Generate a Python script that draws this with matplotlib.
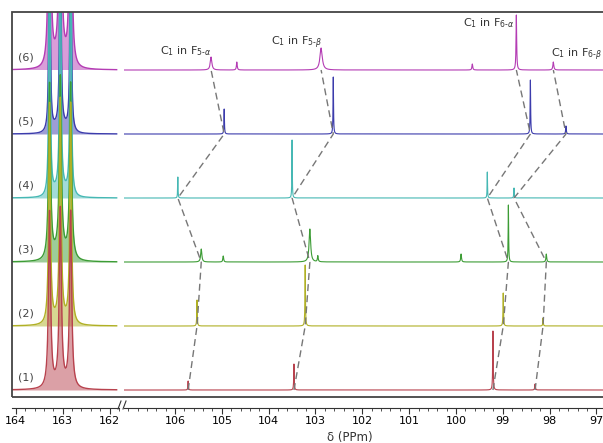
import numpy as np
import matplotlib
matplotlib.use("Agg")
import matplotlib.pyplot as plt
from matplotlib.patches import Rectangle
from matplotlib.lines import Line2D

# Spektren (1)..(6), Versatz in y-Einheiten
offsets = [0, 64, 128, 192, 256, 320]
row_labels = ["(1)", "(2)", "(3)", "(4)", "(5)", "(6)"]
colors = ["#b8424e", "#b0b025", "#3c9c35", "#46b8b4", "#3c3cac", "#b43cb4"]

# linker Bereich: Triplett bei ~163 ppm
triplet_ppm = [163.28, 163.05, 162.83]
triplet_amp = [176, 220, 175, 400, 400, 900]
triplet_width = [0.026, 0.021, 0.025, 0.013, 0.012, 0.013]
hump_height = [3, 5, 8, 8, 8, 10]

# rechter Bereich: (ppm, Höhe, Halbwertsbreite)
peaks_1 = [(105.72, 9, 0.006), (103.46, 26, 0.006), (99.21, 59, 0.006), (98.31, 6, 0.008)]
peaks_2 = [(105.53, 26, 0.006), (103.22, 61, 0.006), (98.99, 33, 0.006), (98.14, 8, 0.006)]
peaks_3 = [(105.44, 13, 0.015), (104.97, 6, 0.01), (103.12, 33, 0.02), (102.95, 6, 0.01),
           (99.89, 8, 0.01), (98.88, 57, 0.006), (98.07, 8, 0.01)]
peaks_4 = [(105.94, 21, 0.005), (103.50, 58, 0.005), (99.33, 26, 0.005), (98.76, 10, 0.006)]
peaks_5 = [(104.95, 25, 0.006), (102.62, 57, 0.006), (98.41, 54, 0.006), (97.65, 8, 0.008)]
peaks_6 = [(105.23, 13, 0.02), (104.68, 8, 0.01), (102.88, 22, 0.03), (99.65, 6, 0.01),
           (98.71, 55, 0.008), (97.92, 8, 0.012)]
right_peaks = [peaks_1, peaks_2, peaks_3, peaks_4, peaks_5, peaks_6]

# gestrichelte Verbindungen (Spektrum 1..6)
chain_f5a = [105.72, 105.53, 105.44, 105.94, 104.95, 105.23]
chain_f5b = [103.46, 103.22, 103.12, 103.50, 102.62, 102.88]
chain_f6a = [99.21, 98.99, 98.88, 99.33, 98.41, 98.71]
chain_f6b = [98.31, 98.14, 98.07, 98.76, 97.65, 97.92]

annot_text = [r"C$_1$ in F$_{5\text{-}\alpha}$", r"C$_1$ in F$_{5\text{-}\beta}$",
              r"C$_1$ in F$_{6\text{-}\alpha}$", r"C$_1$ in F$_{6\text{-}\beta}$"]
annot_ppm = [106.32, 103.95, 99.85, 97.96]
annot_y = [339, 347, 367, 335]

left_ticks = [164, 163, 162]
right_ticks = [106, 105, 104, 103, 102, 101, 100, 99, 98, 97]


def lorentz(x, x0, h, w):
    return h * w**2 / ((x - x0)**2 + w**2)


W, H = 603, 443
fig = plt.figure(figsize=(W / 100, H / 100), dpi=100)
bottom = (H - 397) / H
height = 385 / H
axL = fig.add_axes([12 / W, bottom, 107 / W, height])
axR = fig.add_axes([124 / W, bottom, 486 / W, height])

# linker Bereich
xl = np.sort(np.concatenate([np.linspace(164.1, 161.85, 3000), triplet_ppm]))
for i in reversed(range(6)):
    y = np.zeros_like(xl)
    for p in triplet_ppm:
        y += lorentz(xl, p, triplet_amp[i], triplet_width[i])
    y += hump_height[i] * np.exp(-((xl - triplet_ppm[1]) / 0.2)**2)
    axL.fill_between(xl, offsets[i], offsets[i] + y, color=colors[i], alpha=0.5, lw=0)
    axL.plot(xl, offsets[i] + y, color=colors[i], lw=1.0)
    axL.text(163.95, offsets[i] + 13, row_labels[i], fontsize=8, color="#444444",
             ha="left", va="center")

# rechter Bereich
all_ppm = [p[0] for pk in right_peaks for p in pk]
xr = np.sort(np.concatenate([np.linspace(107.2, 96.6, 8000), all_ppm]))
for i in reversed(range(6)):
    y = np.zeros_like(xr)
    for p, h, w in right_peaks[i]:
        y += lorentz(xr, p, h, w)
    axR.plot(xr, offsets[i] + y, color=colors[i], lw=0.8)

for chain in [chain_f5a, chain_f5b, chain_f6a, chain_f6b]:
    axR.plot(chain, offsets, color="#777777", lw=1.0, linestyle=(0, (5, 3)), zorder=5)

for t, px, py in zip(annot_text, annot_ppm, annot_y):
    axR.text(px, py, t, fontsize=8, color="#333333", ha="left", va="center")

for ax in [axL, axR]:
    ax.set_ylim(-7, 378)
    ax.set_yticks([])
    for s in ["top", "right", "left"]:
        ax.spines[s].set_visible(False)
    ax.spines["bottom"].set_position(("outward", 8))
    ax.spines["bottom"].set_color("#333333")
    ax.tick_params(axis="x", which="major", length=4, color="#333333", labelsize=8, pad=1.5)
    ax.tick_params(axis="x", which="minor", length=2.5, color="#333333")
    ax.patch.set_alpha(0)

axL.set_xlim(164.08, 161.88)
axR.set_xlim(107.09, 96.71)
axL.set_xticks(left_ticks)
axR.set_xticks(right_ticks)
axL.set_xticks(np.arange(161.8, 164.2, 0.2), minor=True)
axR.set_xticks(np.arange(96.8, 107.0, 0.2), minor=True)

# Rahmen
fig.add_artist(Rectangle((12 / W, bottom), 700 / W, height, transform=fig.transFigure,
                         fill=False, edgecolor="#444444", lw=1.3))

# Achsenbruch
yb = (H - 405) / H
for dx in [118, 123]:
    fig.add_artist(Line2D([dx / W, (dx + 3) / W], [yb - 4 / H, yb + 4 / H],
                          transform=fig.transFigure, color="#333333", lw=0.8))

fig.text(350 / W, 6 / H, "δ (PPm)", fontsize=8.5, color="#333333", ha="center", va="center")

fig.savefig("out.png", dpi=100)
